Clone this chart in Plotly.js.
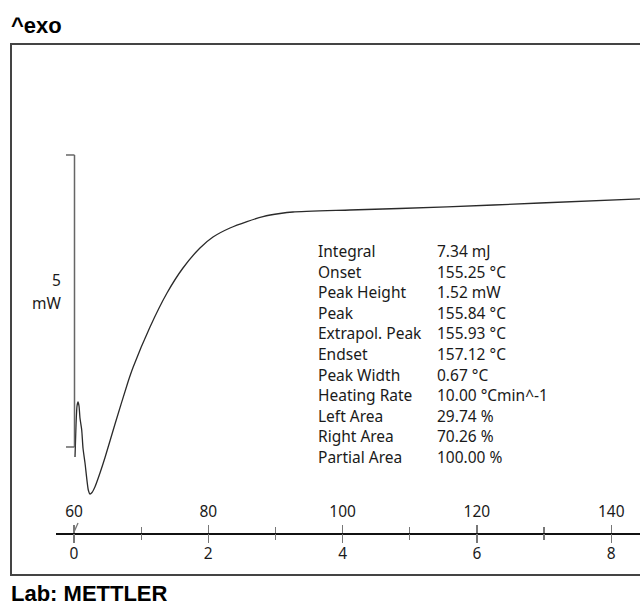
<!DOCTYPE html>
<html>
<head>
<meta charset="utf-8">
<script src="https://cdn.plot.ly/plotly-3.0.1.min.js"></script>
<style>
  html, body { margin: 0; padding: 0; background: #fff; }
  #chart { width: 640px; height: 608px; }
</style>
</head>
<body>
<div id="chart"></div>
<script>
// DSC heat-flow curve: sample temperature (°C) against heat flow (mW)
const temperature = [60.15, 60.30, 60.45, 60.60, 60.75, 60.89, 61.15, 61.34, 61.64, 62.13,
                     62.38, 62.68, 63.13, 63.87, 64.62, 66.11, 68.04, 68.79, 71.32, 73.85,
                     76.23, 78.76, 80.70, 83.23, 85.76, 88.15, 90.68, 92.61, 101.10, 115.55,
                     129.40, 144.29];
const heatFlow = [-0.171, 0.377, 0.702, 0.771, 0.702, 0.497, 0.291, -0.017, -0.274, -0.736,
                  -0.805, -0.779, -0.680, -0.445, -0.180, 0.394, 1.113, 1.361, 2.055, 2.637,
                  3.065, 3.408, 3.596, 3.750, 3.860, 3.945, 3.998, 4.024, 4.058, 4.110,
                  4.178, 4.247];

// Axis ticks: temperature above the line, elapsed time below
const tempTicks = [60, 80, 100, 120, 140];
const tempMinorTicks = [70, 90, 110, 130];
const timeTicks = [0, 2, 4, 6, 8];
const timeMinorTicks = [1, 3, 5, 7];
const startTemp = 60;      // °C at t = 0
const heatingRate = 10;    // °C per min

// Heat-flow scale bar (mW)
const scaleBar = [0, 5];
const scaleUnit = 'mW';

// Peak evaluation results
const statLabels = ['Integral', 'Onset', 'Peak Height', 'Peak', 'Extrapol. Peak', 'Endset',
                    'Peak Width', 'Heating Rate', 'Left Area', 'Right Area', 'Partial Area'];
const statValues = ['7.34 mJ', '155.25 °C', '1.52 mW', '155.84 °C', '155.93 °C', '157.12 °C',
                    '0.67 °C', '10.00 °Cmin^-1', '29.74 %', '70.26 %', '100.00 %'];

const W = 640, H = 608;
const px = x => x / W;
const py = y => 1 - y / H;

const tempRange = [57.32, 144.29];
const timeRange = tempRange.map(t => (t - startTemp) / heatingRate);
const flowRange = [-2.757, 7.654];

const textFont = { family: 'Noto Sans, DejaVu Sans, sans-serif', size: 15.5, color: '#1a1a1a' };
const headFont = { family: 'Liberation Sans, Arial, sans-serif', size: 22, color: '#000', weight: 'bold' };

const traces = [
  {
    x: temperature, y: heatFlow, xaxis: 'x', yaxis: 'y',
    type: 'scatter', mode: 'lines',
    line: { color: '#2a2a2a', width: 1.3, shape: 'spline', smoothing: 0.6 },
    hoverinfo: 'skip', showlegend: false
  },
  {
    x: [], y: [], xaxis: 'x2', yaxis: 'y',
    type: 'scatter', mode: 'lines', hoverinfo: 'skip', showlegend: false
  }
];

const annotations = [
  { text: '^exo', xref: 'paper', yref: 'paper', x: px(9), y: py(25), xanchor: 'left', yanchor: 'middle', showarrow: false, font: headFont },
  { text: 'Lab: METTLER', xref: 'paper', yref: 'paper', x: px(9), y: 0, xanchor: 'left', yanchor: 'bottom', showarrow: false, font: headFont },
  { text: String(scaleBar[1]), xref: 'paper', yref: 'paper', x: px(63), y: py(280), xanchor: 'right', yanchor: 'middle', showarrow: false, font: textFont },
  { text: scaleUnit, xref: 'paper', yref: 'paper', x: px(63), y: py(303), xanchor: 'right', yanchor: 'middle', showarrow: false, font: textFont }
];
statLabels.forEach((lab, i) => {
  const yc = 251 + i * 20.6;
  annotations.push({ text: lab, xref: 'paper', yref: 'paper', x: px(316), y: py(yc), xanchor: 'left', yanchor: 'middle', showarrow: false, font: textFont });
  annotations.push({ text: statValues[i], xref: 'paper', yref: 'paper', x: px(435), y: py(yc), xanchor: 'left', yanchor: 'middle', showarrow: false, font: textFont });
});

const shapes = [
  // outer frame
  { type: 'rect', xref: 'paper', yref: 'paper', x0: px(11), x1: px(660), y0: py(575), y1: py(44),
    line: { color: '#444', width: 2 }, layer: 'below' },
  // scale bar and its end ticks
  { type: 'line', xref: 'paper', yref: 'y', x0: px(74.5), x1: px(74.5), y0: scaleBar[0], y1: scaleBar[1],
    line: { color: '#666', width: 1.5 } },
  { type: 'line', xref: 'paper', yref: 'y', x0: px(66), x1: px(74.5), y0: scaleBar[0], y1: scaleBar[0],
    line: { color: '#666', width: 1.5 } },
  { type: 'line', xref: 'paper', yref: 'y', x0: px(66), x1: px(74.5), y0: scaleBar[1], y1: scaleBar[1],
    line: { color: '#666', width: 1.5 } },
  // start-of-segment mark on the temperature axis
  { type: 'line', xref: 'x', yref: 'paper', x0: startTemp, x1: startTemp + 0.6, y0: py(532), y1: py(523),
    line: { color: '#777', width: 1.3 } }
];

const tickCommon = { color: '#777', width: 1.3 };

const layout = {
  width: W, height: H,
  margin: { l: 0, r: 0, t: 0, b: 0, pad: 0 },
  paper_bgcolor: '#fff', plot_bgcolor: 'rgba(0,0,0,0)',
  showlegend: false,
  xaxis: {
    domain: [px(56), 1], range: tempRange, anchor: 'free', position: py(533), side: 'top',
    showline: true, linecolor: '#111', linewidth: 1.5,
    ticks: 'outside', ticklen: 8, tickwidth: tickCommon.width, tickcolor: tickCommon.color,
    tickmode: 'array', tickvals: tempTicks, ticklabelstandoff: 2,
    minor: { tickmode: 'array', tickvals: tempMinorTicks, ticks: 'outside', ticklen: 6,
             tickwidth: tickCommon.width, tickcolor: tickCommon.color, showgrid: false },
    showgrid: false, zeroline: false, tickfont: textFont, fixedrange: true
  },
  xaxis2: {
    overlaying: 'x', range: timeRange, anchor: 'free', position: py(533), side: 'bottom',
    showline: false,
    ticks: 'outside', ticklen: 9, tickwidth: tickCommon.width, tickcolor: tickCommon.color,
    tickmode: 'array', tickvals: timeTicks, ticklabelstandoff: -3,
    minor: { tickmode: 'array', tickvals: timeMinorTicks, ticks: 'outside', ticklen: 6,
             tickwidth: tickCommon.width, tickcolor: tickCommon.color, showgrid: false },
    showgrid: false, zeroline: false, tickfont: textFont, fixedrange: true
  },
  yaxis: { domain: [0, 1], range: flowRange, visible: false, fixedrange: true },
  annotations: annotations,
  shapes: shapes
};

Plotly.newPlot('chart', traces, layout, { staticPlot: true, displayModeBar: false });
</script>
</body>
</html>
